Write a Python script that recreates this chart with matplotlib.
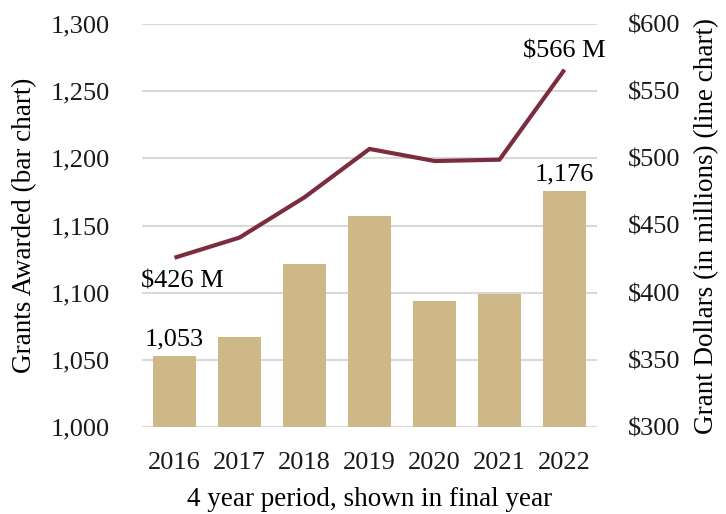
import matplotlib
matplotlib.use("Agg")
import matplotlib.pyplot as plt
from matplotlib.ticker import FuncFormatter

years = ["2016", "2017", "2018", "2019", "2020", "2021", "2022"]
grants = [1053, 1067, 1121, 1157, 1094, 1099, 1176]
dollars = [426, 441, 471, 507, 498, 499, 566]

plt.rcParams['font.family'] = ['Liberation Serif', 'DejaVu Serif']
fs = 19
lfs = 19.5

fig = plt.figure(figsize=(7.26, 5.14), dpi=100)
W, H = 726, 514
ax = fig.add_axes([142 / W, (H - 427) / H, (597 - 142) / W, 403 / H])
ax2 = ax.twinx()

x = list(range(len(years)))
ax.set_axisbelow(True)
ax.bar(x, grants, width=0.66, color="#cfb887", zorder=2)
ax.set_ylim(1000, 1300)
ax.set_yticks(range(1000, 1301, 50))
ax.yaxis.set_major_formatter(FuncFormatter(lambda v, p: f"{int(v):,}"))
ax.grid(axis="y", color="#d9d9d9", linewidth=1.5, zorder=0)
ax.set_xlim(-0.5, len(years) - 0.5)
ax.set_xticks(x)
ax.set_xticklabels(years)
for s in ax.spines.values():
    s.set_visible(False)
for s in ax2.spines.values():
    s.set_visible(False)
ax.tick_params(axis="both", length=0, labelsize=fs, colors="#1a1a1a")
ax.tick_params(axis="y", pad=23)
ax.tick_params(axis="x", pad=18)
ax.set_ylabel("Grants Awarded (bar chart)", fontsize=lfs, labelpad=10)
ax.set_xlabel("4 year period, shown in final year", fontsize=lfs, labelpad=9)

ax2.plot(x, dollars, color="#7b2d3e", linewidth=3.0, solid_capstyle="butt", zorder=3)
ax2.set_ylim(300, 600)
ax2.set_yticks(range(300, 601, 50))
ax2.yaxis.set_major_formatter(FuncFormatter(lambda v, p: f"${int(v)}"))
ax2.tick_params(axis="y", length=0, labelsize=fs, pad=22, colors="#1a1a1a")
ax2.set_ylabel("Grant Dollars (in millions) (line chart)", fontsize=lfs, labelpad=10)

ax.annotate(f"{grants[0]:,}", (x[0], grants[0]), xytext=(0, 4), textcoords="offset points",
            ha="center", va="bottom", fontsize=fs)
ax.annotate(f"{grants[-1]:,}", (x[-1], grants[-1]), xytext=(0, 4), textcoords="offset points",
            ha="center", va="bottom", fontsize=fs)
ax2.annotate(f"${dollars[0]} M", (x[0], dollars[0]), xytext=(6, -9), textcoords="offset points",
             ha="center", va="top", fontsize=fs)
ax2.annotate(f"${dollars[-1]} M", (x[-1], dollars[-1]), xytext=(0, 5), textcoords="offset points",
             ha="center", va="bottom", fontsize=fs)

fig.savefig("out.png", dpi=100)
